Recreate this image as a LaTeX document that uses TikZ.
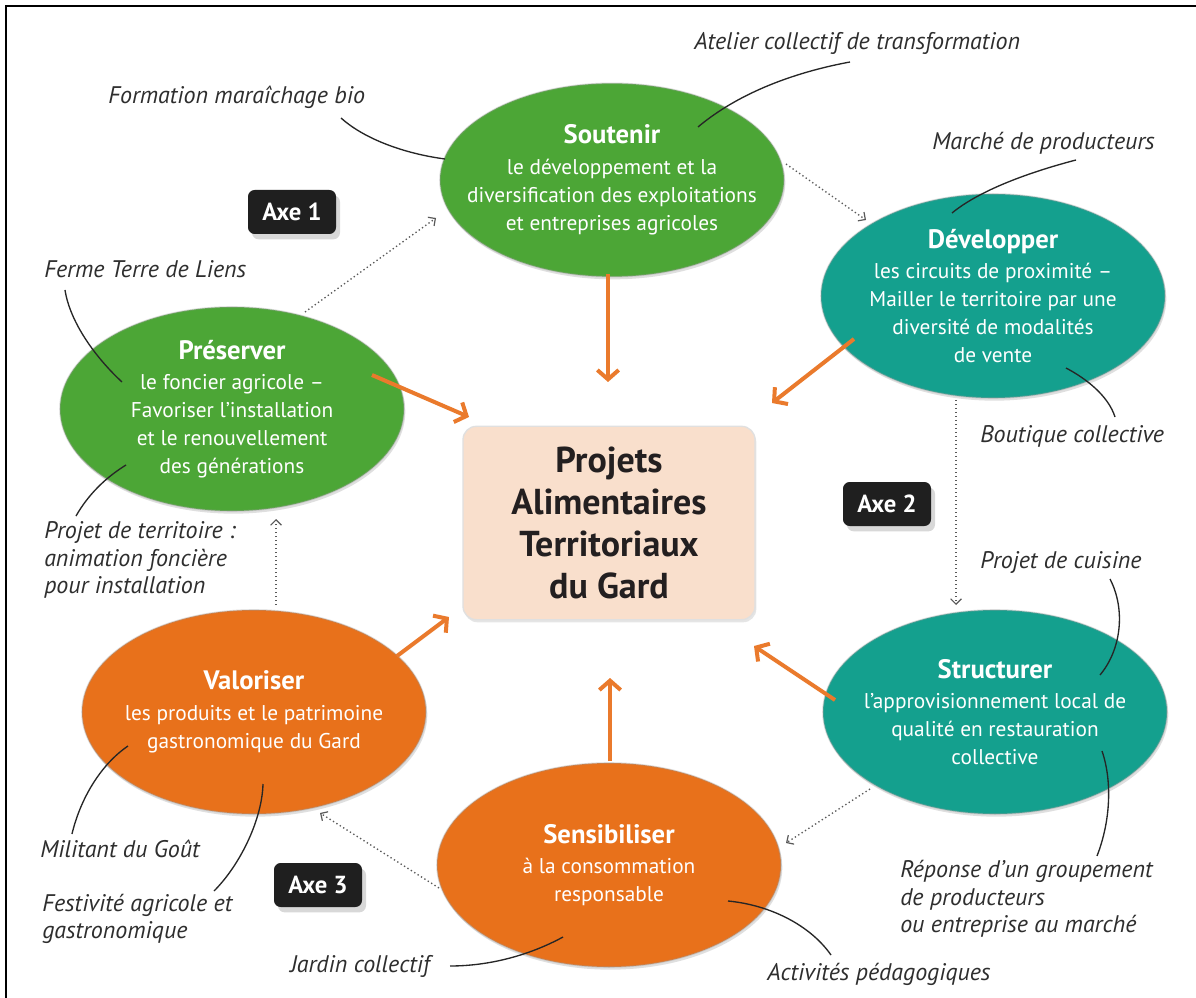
\documentclass[tikz,border=0pt]{standalone}
\usepackage{fontspec}
\setmainfont{PT Sans}
\usetikzlibrary{arrows.meta,shapes.geometric,shadows}
\definecolor{gG}{HTML}{4CA636}
\definecolor{gT}{HTML}{14A08E}
\definecolor{gO}{HTML}{E8711B}
\definecolor{aO}{HTML}{EA7A2C}
\definecolor{boxF}{HTML}{F9DFCC}
\definecolor{txtD}{HTML}{231F20}
\definecolor{annT}{HTML}{2E2E2E}
\begin{document}
\begin{tikzpicture}[x=0.75pt,y=-0.75pt,
  bubble/.style={ellipse, minimum width=258pt, minimum height=153pt, inner sep=0pt,
    draw=black!40, draw opacity=0.35, line width=1.2pt,
    drop shadow={shadow xshift=1pt, shadow yshift=-2pt, opacity=0.25}},
  btext/.style={text=white, align=center, inner sep=0pt, font=\fontsize{16}{21}\selectfont},
  axebox/.style={fill=black!88, rounded corners=5pt, minimum width=66pt, minimum height=33pt,
    text=white, font=\fontsize{18.5}{20}\selectfont\bfseries, inner sep=0pt,
    drop shadow={shadow xshift=3pt, shadow yshift=-4pt, opacity=0.3}},
  ann/.style={anchor=west, align=left, text=annT, inner sep=0pt,
    font=\fontsize{18}{20.5}\selectfont\itshape},
  leader/.style={draw=black!85, line width=1pt},
  flow/.style={draw=aO, line width=3pt, -{Straight Barb[length=7pt,width=16pt]}},
  cyc/.style={draw=black!65, line width=1pt, dotted, -{Straight Barb[length=4pt,width=8pt,line width=0.9pt]}}
]
\useasboundingbox (0,0) rectangle (1196,998);
\fill[white] (0,0) rectangle (1196,998);
\draw[line width=2.2pt] (6,998) -- (6,6) -- (1196,6);

% ellipses
\node[bubble, fill=gG, minimum height=145pt] (sout) at (612,180) {};
\node[btext] (soutT) at (sout.center)
  {{\fontsize{20}{21}\selectfont\bfseries Soutenir}\\[2pt]le développement et la\\diversification des exploitations\\et entreprises agricoles};
\node[bubble, fill=gT] (dev) at (993,296) {};
\node[btext] (devT) at (dev.center)
  {{\fontsize{20}{21}\selectfont\bfseries Développer}\\[2pt]les circuits de proximité –\\Mailler le territoire par une\\diversité de modalités\\de vente};
\node[bubble, fill=gG] (pres) at (232,409) {};
\node[btext] (presT) at (pres.center)
  {{\fontsize{20}{21}\selectfont\bfseries Préserver}\\[2pt]le foncier agricole –\\Favoriser l’installation\\et le renouvellement\\des générations};
\node[bubble, fill=gT] (struc) at (995,712) {};
\node[btext] (strucT) at (struc.center)
  {{\fontsize{20}{21}\selectfont\bfseries Structurer}\\[2pt]l’approvisionnement local de\\qualité en restauration\\collective};
\node[bubble, fill=gO] (val) at (254,712) {};
\node[btext] (valT) at (val.center)
  {{\fontsize{20}{21}\selectfont\bfseries Valoriser}\\[2pt]les produits et le patrimoine\\gastronomique du Gard};
\node[bubble, fill=gO] (sens) at (609,865) {};
\node[btext] (sensT) at (sens.center)
  {{\fontsize{20}{21}\selectfont\bfseries Sensibiliser}\\[2pt]à la consommation\\responsable};

% centre
\node[fill=boxF, draw=black!12, line width=1pt, rounded corners=10pt, minimum width=219pt, minimum height=145pt,
  align=center, text=txtD, font=\fontsize{27}{31.5}\selectfont\bfseries,
  drop shadow={shadow xshift=1pt, shadow yshift=-2pt, opacity=0.2}] (box) at (609,523)
  {Projets\\Alimentaires\\Territoriaux\\du Gard};

% axes
\node[axebox] (ax1) at (292,212) {Axe 1};
\node[axebox] (ax2) at (887,504) {Axe 2};
\node[axebox] (ax3) at (318,885) {Axe 3};

% orange arrows
\coordinate (oS1) at (608,274); \coordinate (oE1) at (608,382);
\coordinate (oS2) at (372,375); \coordinate (oE2) at (469,417);
\coordinate (oS3) at (854,339); \coordinate (oE3) at (772,403);
\coordinate (oS4) at (835,700); \coordinate (oE4) at (754,646);
\coordinate (oS5) at (397,656); \coordinate (oE5) at (449,617);
\coordinate (oS6) at (610,761); \coordinate (oE6) at (610,678);
\draw[flow] (oS1) -- (oE1);
\draw[flow] (oS2) -- (oE2);
\draw[flow] (oS3) -- (oE3);
\draw[flow] (oS4) -- (oE4);
\draw[flow] (oS5) -- (oE5);
\draw[flow] (oS6) -- (oE6);

% dotted cycle
\coordinate (d1a) at (305,312); \coordinate (d1b) at (436,218);
\coordinate (d2a) at (786,164); \coordinate (d2b) at (866,220);
\coordinate (d3a) at (956,400); \coordinate (d3b) at (956,605);
\coordinate (d4a) at (870,789); \coordinate (d4b) at (786,843);
\coordinate (d5a) at (439,888); \coordinate (d5b) at (320,813);
\coordinate (d6a) at (276,605); \coordinate (d6b) at (276,519);
\draw[cyc] (d1a) -- (d1b);
\draw[cyc] (d2a) -- (d2b);
\draw[cyc] (d3a) -- (d3b);
\draw[cyc] (d4a) -- (d4b);
\draw[cyc] (d5a) -- (d5b);
\draw[cyc] (d6a) -- (d6b);

% annotations
\node[ann] (t1) at (694,43) {Atelier collectif de transformation};
\node[ann] (t2) at (108,97) {Formation maraîchage bio};
\node[ann] (t3) at (932,143) {Marché de producteurs};
\node[ann] (t4) at (44,269) {Ferme Terre de Liens};
\node[ann] (t5) at (44,560) {Projet de territoire :\\animation foncière\\pour installation};
\node[ann] (t6) at (980,436) {Boutique collective};
\node[ann] (t7) at (980,562) {Projet de cuisine};
\node[ann] (t8) at (900,899) {Réponse d’un groupement\\de producteurs\\ou entreprise au marché};
\node[ann] (t9) at (40,849) {Militant du Goût};
\node[ann] (t10) at (42,919) {Festivité agricole et\\gastronomique};
\node[ann] (t11) at (290,966) {Jardin collectif};
\node[ann] (t12) at (767,974) {Activités pédagogiques};

% leader ends
\coordinate (l1a) at (850,62);  \coordinate (l1b) at (698,127);
\coordinate (l2a) at (341,118); \coordinate (l2b) at (445,159);
\coordinate (l3a) at (1076,160);\coordinate (l3b) at (952,213);
\coordinate (l4a) at (65,290);  \coordinate (l4b) at (122,382);
\coordinate (l5a) at (76,516);  \coordinate (l5b) at (126,465);
\coordinate (l6a) at (1115,417);\coordinate (l6b) at (1066,368);
\coordinate (l7a) at (1110,579);\coordinate (l7b) at (1100,675);
\coordinate (l8a) at (1097,856);\coordinate (l8b) at (1102,751);
\coordinate (l9a) at (72,834);  \coordinate (l9b) at (128,746);
\coordinate (l10a) at (214,891);\coordinate (l10b) at (263,784);
\coordinate (l11a) at (450,966);\coordinate (l11b) at (563,937);
\coordinate (l12a) at (831,955);\coordinate (l12b) at (728,901);
\draw[leader] (l1a) .. controls (780,75) and (730,100) .. (l1b);
\draw[leader] (l2a) .. controls (362,137) and (400,153) .. (l2b);
\draw[leader] (l3a) .. controls (1030,172) and (980,190) .. (l3b);
\draw[leader] (l4a) .. controls (70,322) and (95,357) .. (l4b);
\draw[leader] (l5a) .. controls (88,495) and (105,478) .. (l5b);
\draw[leader] (l6a) .. controls (1108,395) and (1085,378) .. (l6b);
\draw[leader] (l7a) .. controls (1126,610) and (1121,650) .. (l7b);
\draw[leader] (l8a) .. controls (1111,820) and (1112,780) .. (l8b);
\draw[leader] (l9a) .. controls (80,800) and (100,765) .. (l9b);
\draw[leader] (l10a) .. controls (240,865) and (262,820) .. (l10b);
\draw[leader] (l11a) .. controls (490,966) and (530,955) .. (l11b);
\draw[leader] (l12a) .. controls (810,925) and (770,905) .. (l12b);
\end{tikzpicture}
\end{document}
